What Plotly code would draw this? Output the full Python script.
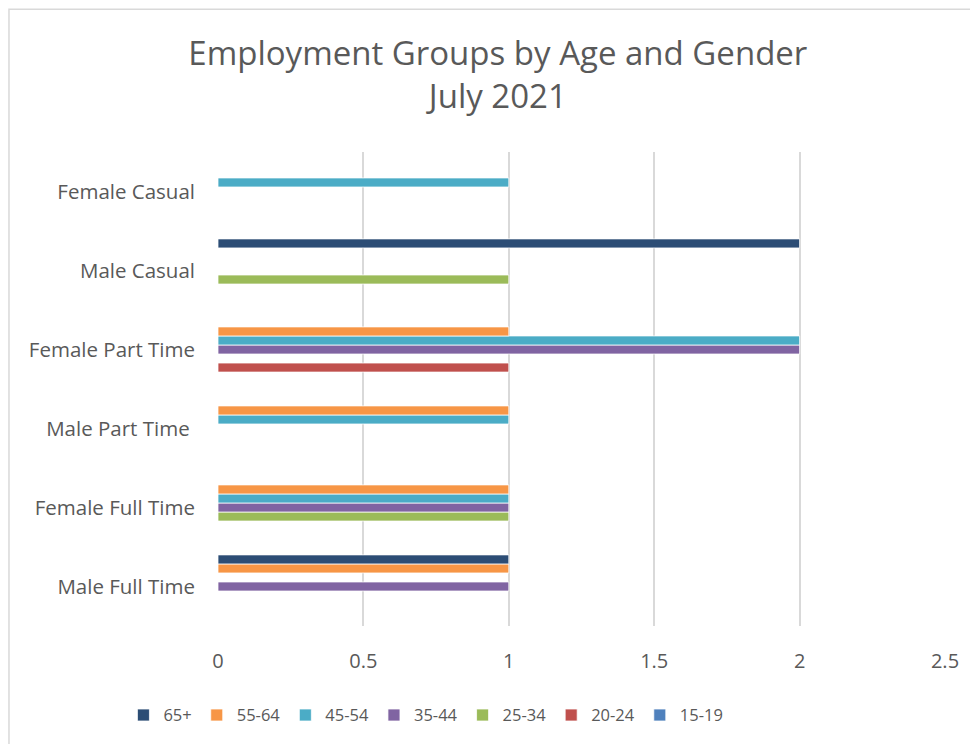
import plotly.graph_objects as go

categories = ["Male Full Time", "Female Full Time", "Male Part Time ",
              "Female Part Time", "Male Casual", "Female Casual"]

age_groups = ["15-19", "20-24", "25-34", "35-44", "45-54", "55-64", "65+"]

v_15_19 = [None, None, None, None, None, None]
v_20_24 = [None, None, None, 1, None, None]
v_25_34 = [None, 1, None, None, 1, None]
v_35_44 = [1, 1, None, 2, None, None]
v_45_54 = [None, 1, 1, 2, None, 1]
v_55_64 = [1, 1, 1, 1, None, None]
v_65_plus = [1, None, None, None, 2, None]

series_values = [v_15_19, v_20_24, v_25_34, v_35_44, v_45_54, v_55_64, v_65_plus]
colors = ["#4F81BD", "#C0504D", "#9BBB59", "#8064A2", "#4BACC6", "#F79646", "#2C4D75"]

x_ticks = [0, 0.5, 1, 1.5, 2, 2.5]
x_tick_labels = ["0", "0.5", "1", "1.5", "2", "2.5"]

font_family = "Open Sans, Noto Sans, sans-serif"
text_color = "#595959"

fig = go.Figure()
for name, vals, col in zip(age_groups, series_values, colors):
    fig.add_trace(go.Bar(
        y=categories, x=vals, name=name, orientation="h",
        marker=dict(color=col, line=dict(color="white", width=0.75)),
    ))

fig.update_layout(
    width=970, height=736,
    barmode="group", bargap=0.2, bargroupgap=0,
    plot_bgcolor="white", paper_bgcolor="white",
    margin=dict(l=210, r=33, t=144, b=117),
    font=dict(family=font_family, color=text_color, size=20),
    title=dict(
        text="Employment Groups by Age and Gender<br>July 2021",
        x=0.505, xref="container", xanchor="center",
        y=0.922, yref="container", yanchor="middle",
        font=dict(size=33, color=text_color, family=font_family),
    ),
    xaxis=dict(
        range=[0, 2.5], tickvals=x_ticks, ticktext=x_tick_labels,
        showgrid=True, gridcolor="#D9D9D9", gridwidth=2,
        zeroline=False, showline=False, ticks="",
        ticklabelstandoff=21,
        tickfont=dict(size=20, color=text_color),
    ),
    yaxis=dict(
        categoryorder="array", categoryarray=categories,
        showgrid=False, zeroline=False, showline=False, ticks="",
        ticklabelstandoff=22,
        tickfont=dict(size=20.5, color=text_color),
    ),
    legend=dict(
        orientation="h", traceorder="reversed",
        x=0.286, xanchor="center", y=-0.149, yanchor="top",
        font=dict(size=16.5, color=text_color),
        itemwidth=30,
    ),
    shapes=[dict(
        type="rect", xref="paper", yref="paper",
        x0=-0.2875, x1=1.06, y0=-0.27, y1=1.301,
        line=dict(color="#D9D9D9", width=1.5), fillcolor="rgba(0,0,0,0)",
        layer="below",
    )],
)

fig.write_html("out.html")
